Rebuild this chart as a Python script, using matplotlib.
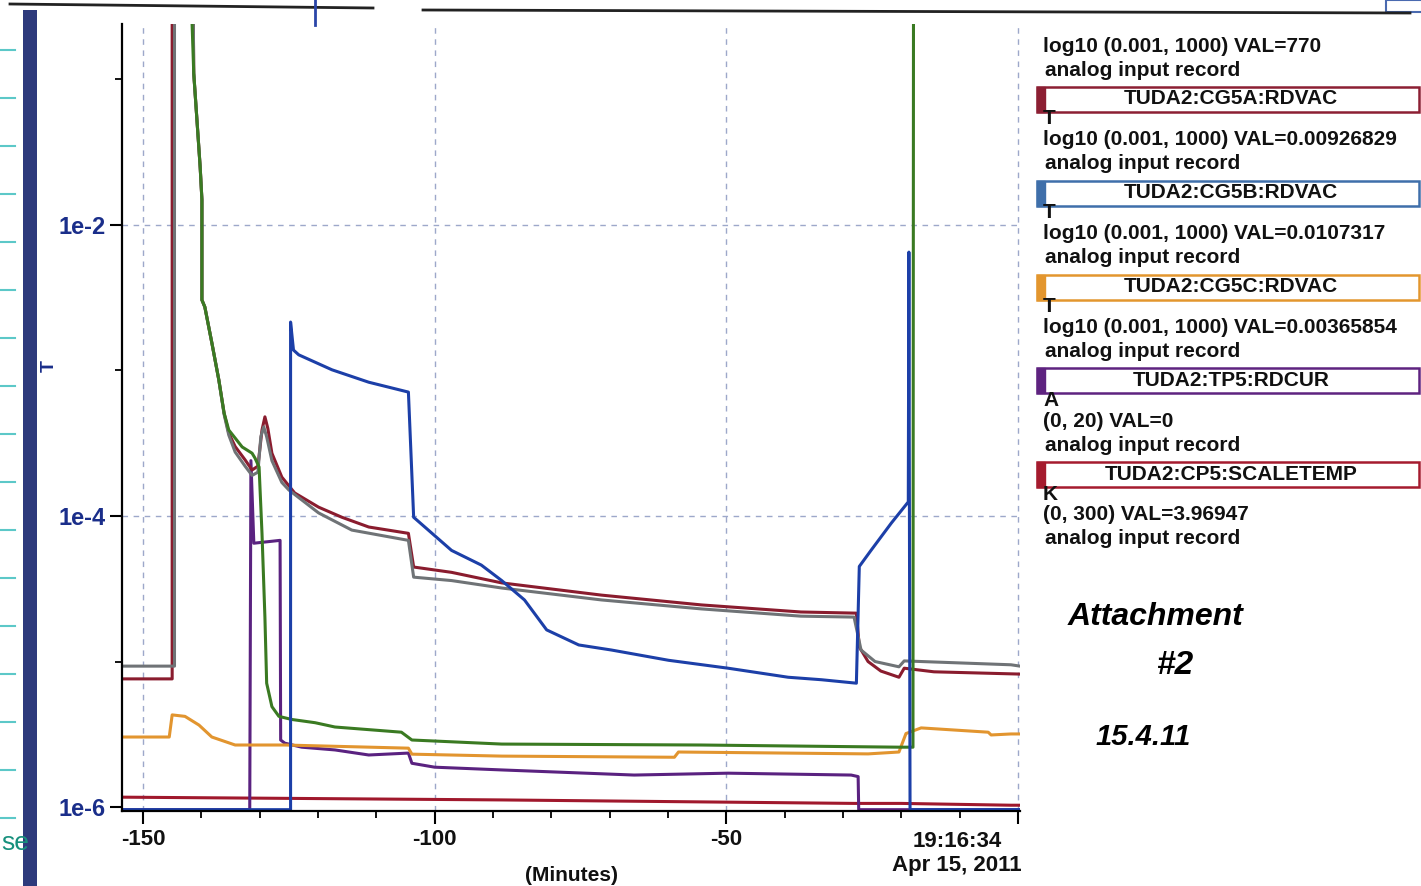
import matplotlib
matplotlib.use('Agg')
import matplotlib.pyplot as plt
from matplotlib.patches import Rectangle
from matplotlib.lines import Line2D
from matplotlib.ticker import FixedLocator, NullFormatter

plt.rcParams['font.family'] = ['Liberation Sans', 'DejaVu Sans']

W, H = 1421, 886
OFF = 1.0      # off-scale (above top)
FLOOR = 9.6e-7  # below-range readings

# ---- traces: minutes relative to 19:16:34, value on the log axis ----
# TUDA2:CG5A:RDVAC (dark red)
cg5a_t = [-153.6, -145.0, -145.0, -141.5, -141.3, -140.2, -139.9, -139.9, -139.4, -138.2,
          -137.0, -136.1, -135.3, -134.2, -132.5, -131.3, -130.3, -129.6, -129.1, -128.6,
          -127.9, -126.2, -124.0, -119.9, -115.9, -111.3, -104.5, -103.6, -97.1, -88.5,
          -71.4, -54.3, -37.2, -27.7, -27.2, -25.7, -23.5, -20.4, -19.5, -14.4, 0.35]
cg5a_v = [7.6e-6, 7.6e-6, OFF, OFF, 0.11, 2.5e-2, 1.49e-2, 3.05e-3, 2.73e-3, 1.55e-3,
          8.6e-4, 5.1e-4, 3.72e-4, 3.0e-4, 2.43e-4, 2.07e-4, 2.2e-4, 3.9e-4, 4.8e-4, 4.0e-4,
          2.7e-4, 1.85e-4, 1.44e-4, 1.15e-4, 9.8e-5, 8.4e-5, 7.6e-5, 4.46e-5, 4.1e-5, 3.47e-5,
          2.86e-5, 2.45e-5, 2.19e-5, 2.15e-5, 1.26e-5, 1.0e-5, 8.6e-6, 7.8e-6, 9.0e-6, 8.5e-6, 8.2e-6]

# TUDA2:CG5B:RDVAC (grey)
cg5b_t = [-153.6, -144.6, -144.6, -141.5, -141.3, -140.2, -139.9, -139.9, -139.4, -138.2,
          -137.0, -136.1, -135.3, -134.2, -132.5, -131.3, -130.3, -129.8, -129.3, -128.8,
          -127.9, -126.2, -125.0, -119.9, -114.2, -104.5, -103.6, -97.1, -88.5, -71.4,
          -54.3, -37.2, -28.1, -26.9, -24.5, -20.4, -19.5, -1.2, 0.35]
cg5b_v = [9.3e-6, 9.3e-6, OFF, OFF, 0.11, 2.5e-2, 1.49e-2, 3.05e-3, 2.73e-3, 1.55e-3,
          8.6e-4, 5.0e-4, 3.6e-4, 2.75e-4, 2.2e-4, 1.9e-4, 2.0e-4, 3.5e-4, 4.1e-4, 3.5e-4,
          2.4e-4, 1.7e-4, 1.51e-4, 1.05e-4, 8.0e-5, 6.8e-5, 3.8e-5, 3.6e-5, 3.2e-5, 2.65e-5,
          2.3e-5, 2.05e-5, 2.02e-5, 1.2e-5, 1.0e-5, 9.2e-6, 1.01e-5, 9.5e-6, 9.3e-6]

# green gauge
green_t = [-142.1, -141.3, -140.2, -139.9, -139.9, -139.4, -138.2, -137.0, -136.1, -135.3,
           -133.0, -131.3, -130.8, -130.1, -129.6, -129.1, -128.8, -127.9, -126.7, -124.5,
           -120.5, -117.1, -105.7, -103.9, -88.5, -54.3, -20.4, -18.0, -17.9, 0.35]
green_v = [OFF, 0.11, 2.5e-2, 1.49e-2, 3.05e-3, 2.73e-3, 1.55e-3, 8.6e-4, 5.1e-4, 3.9e-4,
           2.98e-4, 2.7e-4, 2.5e-4, 2.17e-4, 7.6e-5, 2.02e-5, 7.1e-6, 4.9e-6, 4.2e-6, 4.0e-6,
           3.8e-6, 3.55e-6, 3.27e-6, 2.89e-6, 2.71e-6, 2.67e-6, 2.58e-6, 2.58e-6, OFF, OFF]

# blue gauge
blue_t = [-153.6, -124.7, -124.7, -124.2, -123.3, -117.6, -111.3, -104.5, -103.6, -97.1,
          -92.0, -88.5, -84.6, -80.8, -75.3, -69.7, -59.9, -49.7, -39.4, -33.7,
          -27.7, -27.2, -25.2, -21.7, -18.8, -18.7, -18.5, 0.35]
blue_v = [FLOOR, FLOOR, 2.15e-3, 1.38e-3, 1.28e-3, 1.01e-3, 8.3e-4, 7.1e-4, 9.8e-5, 5.8e-5,
          4.6e-5, 3.6e-5, 2.65e-5, 1.65e-5, 1.3e-5, 1.2e-5, 1.02e-5, 9.0e-6, 7.8e-6, 7.5e-6,
          7.1e-6, 4.5e-5, 5.8e-5, 8.95e-5, 1.25e-4, 6.5e-3, FLOOR, FLOOR]

# TUDA2:TP5:RDCUR (purple)
tp5_t = [-153.6, -131.7, -131.5, -131.0, -126.5, -126.4, -125.7, -122.8, -117.1, -111.3,
         -104.5, -103.9, -100.0, -88.5, -65.8, -49.7, -28.6, -27.4, -27.3, 0.35]
tp5_v = [FLOOR, FLOOR, 2.4e-4, 6.5e-5, 6.8e-5, 2.89e-6, 2.75e-6, 2.58e-6, 2.47e-6, 2.28e-6,
         2.35e-6, 2.0e-6, 1.88e-6, 1.8e-6, 1.66e-6, 1.71e-6, 1.66e-6, 1.62e-6, FLOOR, FLOOR]

# TUDA2:CG5C:RDVAC (orange)
cg5c_t = [-153.6, -145.5, -145.0, -142.8, -140.4, -138.2, -134.2, -125.7, -104.5, -103.9,
          -88.5, -58.9, -58.2, -25.7, -20.4, -19.2, -16.6, -5.1, -4.6, -1.2, 0.35]
cg5c_v = [3.03e-6, 3.03e-6, 4.3e-6, 4.2e-6, 3.66e-6, 3.03e-6, 2.67e-6, 2.67e-6, 2.54e-6, 2.31e-6,
          2.24e-6, 2.2e-6, 2.39e-6, 2.32e-6, 2.39e-6, 3.2e-6, 3.5e-6, 3.27e-6, 3.13e-6, 3.18e-6, 3.18e-6]

# TUDA2:CP5:SCALETEMP (red)
cp5_t = [-153.6, -88.5, -28.1, -20.0, -1.2, 0.35]
cp5_v = [1.17e-6, 1.12e-6, 1.06e-6, 1.06e-6, 1.03e-6, 1.03e-6]

# ---- legend panel ----
range_lines = ['log10 (0.001, 1000) VAL=770', 'log10 (0.001, 1000) VAL=0.00926829',
               'log10 (0.001, 1000) VAL=0.0107317', 'log10 (0.001, 1000) VAL=0.00365854',
               '(0, 20) VAL=0', '(0, 300) VAL=3.96947']
pv_names = ['TUDA2:CG5A:RDVAC', 'TUDA2:CG5B:RDVAC', 'TUDA2:CG5C:RDVAC',
            'TUDA2:TP5:RDCUR', 'TUDA2:CP5:SCALETEMP']
pv_units = ['T', 'T', 'T', 'A', 'K']
pv_colors = ['#8C1F33', '#3F6FAA', '#E3962E', '#5E2380', '#A51B2E']

x_major = [-150, -100, -50]
y_major = [1e-6, 1e-4, 1e-2]
y_major_labels = ['1e-6', '1e-4', '1e-2']


def fx(px):
    return px / W


def fy(py):
    return 1 - py / H


fig = plt.figure(figsize=(W / 100, H / 100), dpi=100)
ax = fig.add_axes([fx(122), fy(811), fx(1020) - fx(122), fy(24) - fy(811)])
ax.set_yscale('log')
ax.set_xlim(-153.6, 0.35)
ax.set_ylim(9.4e-7, 0.24)

lw = 2.2
ax.plot(cp5_t, cp5_v, color='#A0182C', lw=lw)
ax.plot(tp5_t, tp5_v, color='#5A2280', lw=lw)
ax.plot(cg5c_t, cg5c_v, color='#E2952F', lw=lw)
ax.plot(cg5a_t, cg5a_v, color='#8A1C2E', lw=lw)
ax.plot(cg5b_t, cg5b_v, color='#6F7376', lw=lw)
ax.plot(green_t, green_v, color='#3A7A22', lw=lw)
ax.plot(blue_t, blue_v, color='#1C3FA8', lw=lw)

# grid
for xv in x_major + [0]:
    ax.axvline(xv, color='#9DA8CA', lw=1.0, ls=(0, (4, 4)), zorder=0)
for yv in [1e-4, 1e-2]:
    ax.axhline(yv, color='#9DA8CA', lw=1.0, ls=(0, (4, 4)), zorder=0)

for s in ['top', 'right']:
    ax.spines[s].set_visible(False)
for s in ['left', 'bottom']:
    ax.spines[s].set_linewidth(1.6)
    ax.spines[s].set_color('black')

ax.xaxis.set_major_locator(FixedLocator(x_major + [0]))
ax.set_xticklabels([str(v) for v in x_major] + [''])
ax.xaxis.set_minor_locator(FixedLocator(list(range(-150, 1, 10))))
ax.tick_params(axis='x', which='major', length=9, width=1.5, pad=4,
               labelsize=16)
ax.tick_params(axis='x', which='minor', length=5, width=1.3)
for lab in ax.get_xticklabels():
    lab.set_fontweight('bold')
    lab.set_color('#111111')

ax.yaxis.set_major_locator(FixedLocator(y_major))
ax.set_yticklabels(y_major_labels)
ax.yaxis.set_minor_locator(FixedLocator([1e-5, 1e-3, 1e-1]))
ax.yaxis.set_minor_formatter(NullFormatter())
ax.tick_params(axis='y', which='major', length=9, width=1.5, pad=3,
               labelsize=17, labelcolor='#1A2E8A')
ax.tick_params(axis='y', which='minor', length=5, width=1.3)
for lab in ax.get_yticklabels():
    lab.set_fontweight('bold')

fig.text(fx(1022), fy(831), '19:16:34\nApr 15, 2011', ha='right', va='top',
         ma='center', fontsize=16, fontweight='bold', color='#111111',
         linespacing=1.2)
fig.text(fx(572), fy(885), '(Minutes)', ha='center', va='bottom', fontsize=15,
         fontweight='bold', color='#111111')

# legend panel on the right
for k, rl in enumerate(range_lines):
    y0 = 46 + 93.8 * k
    fig.text(fx(1043), fy(y0), rl, ha='left', va='center', fontsize=15,
             fontweight='bold', color='#111111')
    fig.text(fx(1045), fy(y0 + 24), 'analog input record', ha='left',
             va='center', fontsize=15, fontweight='bold', color='#111111')
    if k < len(pv_names):
        c = pv_colors[k]
        top, bot = y0 + 41, y0 + 66
        fig.patches.append(Rectangle((fx(1037), fy(bot)), fx(1419) - fx(1037),
                                     fy(top) - fy(bot), transform=fig.transFigure,
                                     facecolor='white', edgecolor=c, lw=1.8))
        fig.patches.append(Rectangle((fx(1037), fy(bot)), fx(8), fy(top) - fy(bot),
                                     transform=fig.transFigure, facecolor=c,
                                     edgecolor=c, lw=1))
        fig.text(fx(1231), fy(y0 + 53), pv_names[k], ha='center', va='center',
                 fontsize=15, fontweight='bold', color='#111111')
        fig.text(fx(1043), fy(y0 + 73), pv_units[k], ha='left', va='center',
                 fontsize=15, fontweight='bold', color='#111111')

# handwritten note
fig.text(fx(1068), fy(617), 'Attachment', ha='left', va='center', fontsize=23,
         fontstyle='italic', fontweight='bold', color='black')
fig.text(fx(1176), fy(665), '#2', ha='center', va='center', fontsize=24,
         fontstyle='italic', fontweight='bold', color='black')
fig.text(fx(1143), fy(737), '15.4.11', ha='center', va='center', fontsize=21,
         fontstyle='italic', fontweight='bold', color='black')

# scan leftovers at the left and top edges
fig.patches.append(Rectangle((fx(23), 0), fx(14), fy(10), transform=fig.transFigure,
                             facecolor='#2E3A7C', edgecolor='none'))
for k in range(17):
    yy = fy(50 + 48 * k)
    fig.add_artist(Line2D([0, fx(15)], [yy, yy], color='#5CC8C8', lw=1.5))
fig.text(fx(1), fy(843), 'se', ha='left', va='center', fontsize=19,
         color='#17907D')
fig.text(fx(41), fy(366), 'T', ha='left', va='center', fontsize=14,
         fontweight='bold', rotation=90, color='#1A2E8A')
fig.add_artist(Line2D([fx(10), fx(373)], [fy(4), fy(8)], color='#222222', lw=2))
fig.add_artist(Line2D([fx(423), fx(1410)], [fy(10), fy(13)], color='#222222', lw=2))
fig.add_artist(Line2D([fx(315), fx(315)], [fy(0), fy(25)], color='#2A45A8', lw=2))
fig.patches.append(Rectangle((fx(1386), fy(12)), fx(40), fy(0) - fy(12),
                             transform=fig.transFigure, facecolor='none',
                             edgecolor='#4A6AB0', lw=1.5))

fig.savefig('out.png', dpi=100)
